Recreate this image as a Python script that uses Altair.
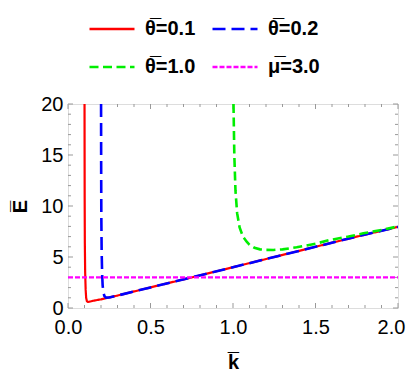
import altair as alt
import pandas as pd

# ---- data ----
series_names = ["θ̅=0.1", "θ̅=0.2", "θ̅=1.0", "μ̅=3.0"]
series_colors = ["#ff0000", "#0000ff", "#00ee00", "#ff00ff"]
series_dash = [[1, 0], [13, 6], [9, 4.5], [5, 2]]
series_width = [2.2, 2.6, 2.6, 2.2]

k_red = [0.1002, 0.1005, 0.101, 0.102, 0.104, 0.107, 0.11, 0.115, 0.12, 0.13, 0.15, 0.2, 0.3, 0.5, 0.75, 1.0, 1.25, 1.5, 1.75, 2.0]
e_red = [20, 16, 11, 6.5, 3.5, 1.8, 1.0, 0.65, 0.6, 0.62, 0.7, 0.85, 1.22, 2.02, 3.0, 4.0, 5.0, 6.0, 7.0, 7.95]

k_blue = [0.2004, 0.201, 0.202, 0.204, 0.207, 0.21, 0.215, 0.22, 0.23, 0.25, 0.3, 0.5, 0.75, 1.0, 1.25, 1.5, 1.75, 2.0]
e_blue = [20, 14, 9, 5.5, 3.3, 2.2, 1.5, 1.2, 1.02, 1.03, 1.22, 2.02, 3.0, 4.0, 5.0, 6.0, 7.0, 7.95]

k_green = [1.003, 1.008, 1.015, 1.025, 1.04, 1.06, 1.083, 1.1, 1.13, 1.164, 1.2, 1.244, 1.3, 1.386, 1.5, 1.588, 1.7, 1.79, 1.9, 2.0]
e_green = [20, 15, 11.5, 9.3, 7.9, 7.0, 6.5, 6.2, 5.9, 5.75, 5.7, 5.69, 5.75, 5.95, 6.3, 6.67, 7.0, 7.32, 7.65, 8.0]

k_mag = [0.0, 2.0]
e_mag = [3.0, 3.0]

x_major = [0.0, 0.5, 1.0, 1.5, 2.0]
x_minor = [0.1, 0.2, 0.3, 0.4, 0.6, 0.7, 0.8, 0.9, 1.1, 1.2, 1.3, 1.4, 1.6, 1.7, 1.8, 1.9]
y_major = [0, 5, 10, 15, 20]
y_minor = [1, 2, 3, 4, 6, 7, 8, 9, 11, 12, 13, 14, 16, 17, 18, 19]

W, H = 330, 204
FRAME = "#999999"
FONT = "Liberation Sans"

xscale = alt.Scale(domain=[0, 2], nice=False, zero=False)
yscale = alt.Scale(domain=[0, 20], nice=False, zero=False)

xaxis = alt.Axis(values=x_major, format=".1f", tickSize=0, domain=False, grid=False,
                 labelFont=FONT, labelFontSize=20, labelColor="black", labelPadding=9,
                 labelFlush=False,
                 labelOffset={"condition": {"test": "datum.value == 2", "value": -7}, "value": 0},
                 title="k̅", titleFont=FONT, titleFontSize=20,
                 titleFontWeight="bold", titleColor="black", titleX=W / 2, titleY=60,
                 titleBaseline="alphabetic", titleAlign="center")
yaxis = alt.Axis(values=y_major, format="d", tickSize=0, domain=False, grid=False,
                 labelFont=FONT, labelFontSize=20, labelColor="black", labelPadding=5,
                 labelFlush=False, title="E̅", titleFont=FONT, titleFontSize=20,
                 titleFontWeight="bold", titleColor="black", titleAngle=270,
                 titleX=-42, titleY=H / 2, titleBaseline="alphabetic", titleAlign="center")


def X():
    return alt.X("k:Q", scale=xscale, axis=xaxis)


def Y():
    return alt.Y("E:Q", scale=yscale, axis=yaxis)


legend = alt.Legend(orient="none", legendX=20, legendY=-99, columns=2, direction="horizontal",
                    title=None, symbolType="stroke", symbolSize=2025, symbolStrokeWidth=2.5,
                    labelFont=FONT, labelFontSize=20, labelFontWeight="bold",
                    labelColor="black", labelOffset=9, columnPadding=11, rowPadding=4,
                    padding=0, labelLimit=300)

color = alt.Color("series:N", scale=alt.Scale(domain=series_names, range=series_colors), legend=legend)
dash = alt.StrokeDash("series:N", scale=alt.Scale(domain=series_names, range=series_dash), legend=legend)

layers = []
for name, ks, es, w in zip(series_names, [k_red, k_blue, k_green, k_mag], [e_red, e_blue, e_green, e_mag], series_width):
    d = pd.DataFrame({"k": ks, "E": es, "series": name})
    layers.append(alt.Chart(d).mark_line(clip=True, strokeWidth=w, strokeCap="butt").encode(
        x=X(), y=Y(), color=color, strokeDash=dash))


def xticks(vals, length):
    d = pd.DataFrame({"k": vals})
    bottom = alt.Chart(d).mark_rule(color=FRAME, strokeWidth=1).encode(
        x=X(), y=alt.value(H), y2=alt.value(H - length))
    top = alt.Chart(d).mark_rule(color=FRAME, strokeWidth=1).encode(
        x=X(), y=alt.value(0), y2=alt.value(length))
    return [bottom, top]


def yticks(vals, length):
    d = pd.DataFrame({"E": vals})
    left = alt.Chart(d).mark_rule(color=FRAME, strokeWidth=1).encode(
        y=Y(), x=alt.value(0), x2=alt.value(length))
    right = alt.Chart(d).mark_rule(color=FRAME, strokeWidth=1).encode(
        y=Y(), x=alt.value(W), x2=alt.value(W - length))
    return [left, right]


ticks = xticks(x_major, 5) + xticks(x_minor, 3) + yticks(y_major, 5) + yticks(y_minor, 3)

chart = alt.layer(*ticks, *layers).properties(
    width=W, height=H,
    autosize=alt.AutoSizeParams(type="none"),
    padding={"left": 60, "top": 96, "right": 9, "bottom": 63},
).configure_view(stroke=FRAME, strokeWidth=1).configure(background="white")

chart.save("out.html", embed_options={"renderer": "svg", "actions": False})
